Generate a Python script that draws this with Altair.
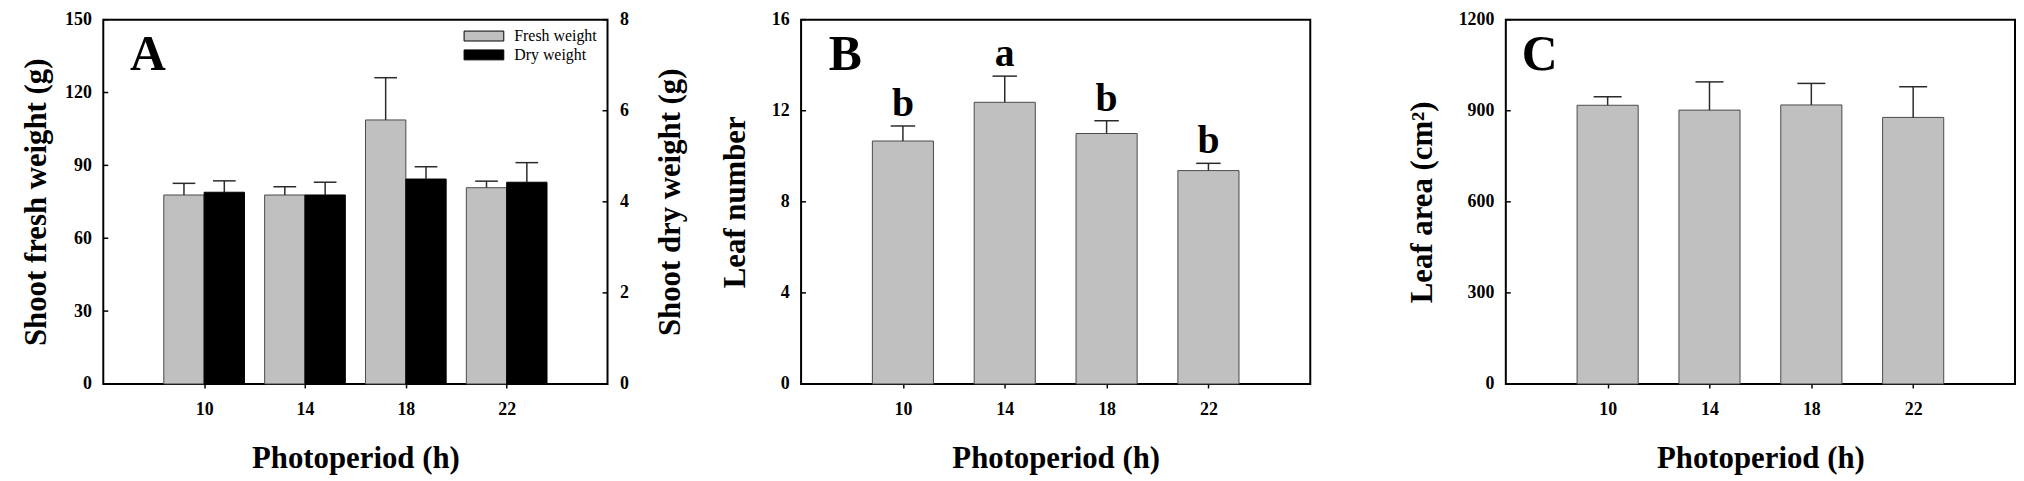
import altair as alt
import pandas as pd

# ---------------- data ----------------
photoperiod = [10, 14, 18, 22]
fresh_weight = [77.8, 77.8, 108.7, 80.8]
fresh_weight_se = [4.8, 3.4, 17.4, 2.7]
dry_weight = [4.21, 4.15, 4.50, 4.43]
dry_weight_se = [0.25, 0.28, 0.27, 0.43]
leaf_number = [10.67, 12.37, 11.0, 9.37]
leaf_number_se = [0.66, 1.15, 0.56, 0.32]
leaf_number_letters = ["b", "a", "b", "b"]
leaf_area = [918, 902, 919, 878]
leaf_area_se = [28, 93, 71, 101]
fresh_ticks = [0, 30, 60, 90, 120, 150]
dry_ticks = [0, 2, 4, 6, 8]
leaf_number_ticks = [0, 4, 8, 12, 16]
leaf_area_ticks = [0, 300, 600, 900, 1200]
series_names = ["Fresh weight", "Dry weight"]

FONT = "Liberation Serif"
BAR_GRAY = "#c0c0c0"
EDGE = "#4a4a4a"
ERR = "#2a2a2a"
X_TITLE = "Photoperiod (h)"
H = 367
WA = 508
WB = 513
TICK_LEN = 5

df_a = pd.DataFrame({"photoperiod": photoperiod, "fresh": fresh_weight,
                     "fresh_se": fresh_weight_se, "dry": dry_weight,
                     "dry_se": dry_weight_se})
df_b = pd.DataFrame({"photoperiod": photoperiod, "value": leaf_number,
                     "se": leaf_number_se, "letter": leaf_number_letters})
df_c = pd.DataFrame({"photoperiod": photoperiod, "value": leaf_area,
                     "se": leaf_area_se})


def xenc(field):
    return alt.X(f"{field}:Q", title=X_TITLE,
                 scale=alt.Scale(domain=[6, 26], nice=False, zero=False),
                 axis=alt.Axis(values=photoperiod, format="d", title=X_TITLE))


def panel_letter(letter, xpos):
    return alt.Chart(pd.DataFrame({"t": [letter]})).mark_text(
        font=FONT, fontSize=50, fontWeight="bold", color="black",
        align="left", baseline="alphabetic").encode(
        x=alt.value(xpos), y=alt.value(51), text="t:N")


def inward_ticks(values, title, x_from, x_to):
    # y-axis ticks drawn inside the frame, positioned by the y scale
    return alt.Chart(pd.DataFrame({"tick": values})).mark_rule(
        color="black", strokeWidth=1.5).encode(
        y=alt.Y("tick:Q", title=title), x=alt.value(x_from), x2=alt.value(x_to))


# ---------------- panel A ----------------
color = alt.Color("series:N", title=None,
                  scale=alt.Scale(domain=series_names, range=[BAR_GRAY, "black"]),
                  legend=alt.Legend(orient="none", legendX=373, legendY=6,
                                    direction="vertical"))

base_a = alt.Chart(df_a).transform_calculate(
    f_x0="datum.photoperiod - 1.6", f_x1="datum.photoperiod",
    f_xc="datum.photoperiod - 0.8",
    f_c0="datum.photoperiod - 1.25", f_c1="datum.photoperiod - 0.35",
    d_x0="datum.photoperiod", d_x1="datum.photoperiod + 1.6",
    d_xc="datum.photoperiod + 0.8",
    d_c0="datum.photoperiod + 0.35", d_c1="datum.photoperiod + 1.25",
    f_top="datum.fresh + datum.fresh_se", d_top="datum.dry + datum.dry_se",
)

FY_T = "Shoot fresh weight (g)"
DY_T = "Shoot dry weight (g)"
fy_scale = alt.Scale(domain=[0, 150], nice=False)
dy_scale = alt.Scale(domain=[0, 8], nice=False)
fy_axis = alt.Axis(values=fresh_ticks, title=FY_T, orient="left", format="d",
                   titlePadding=12)
dy_axis = alt.Axis(values=dry_ticks, title=DY_T, orient="right", format="d",
                   titleAngle=270, titleBaseline="top", titlePadding=28)

fresh_bars = base_a.transform_calculate(series="'Fresh weight'").mark_bar(
    stroke=EDGE, strokeWidth=1).encode(
    x=xenc("f_x0"), x2="f_x1:Q",
    y=alt.Y("fresh:Q", scale=fy_scale, axis=fy_axis, title=FY_T),
    y2=alt.datum(0),
    color=color)
fresh_err = base_a.mark_rule(color=ERR, strokeWidth=1.5).encode(
    x=xenc("f_xc"), y=alt.Y("fresh:Q", title=FY_T), y2="f_top:Q")
fresh_cap = base_a.mark_rule(color=ERR, strokeWidth=1.5).encode(
    x=xenc("f_c0"), x2="f_c1:Q", y=alt.Y("f_top:Q", title=FY_T))

dry_bars = base_a.transform_calculate(series="'Dry weight'").mark_bar(
    stroke="black", strokeWidth=1).encode(
    x=xenc("d_x0"), x2="d_x1:Q",
    y=alt.Y("dry:Q", scale=dy_scale, axis=dy_axis, title=DY_T),
    y2=alt.datum(0),
    color=color)
dry_err = base_a.mark_rule(color=ERR, strokeWidth=1.5).encode(
    x=xenc("d_xc"), y=alt.Y("dry:Q", title=DY_T), y2="d_top:Q")
dry_cap = base_a.mark_rule(color=ERR, strokeWidth=1.5).encode(
    x=xenc("d_c0"), x2="d_c1:Q", y=alt.Y("d_top:Q", title=DY_T))

fresh_layer = alt.layer(fresh_bars, fresh_err, fresh_cap,
                        inward_ticks(fresh_ticks, FY_T, 0, TICK_LEN),
                        panel_letter("A", 27))
dry_layer = alt.layer(dry_bars, dry_err, dry_cap,
                      inward_ticks(dry_ticks, DY_T, WA - TICK_LEN, WA))
panel_a = alt.layer(fresh_layer, dry_layer).resolve_scale(y="independent").properties(
    width=WA, height=H)


# ---------------- panels B and C ----------------
def single_panel(df, ticks, domain, ytitle, half_cap, letter, letter_x, letters=False):
    base = alt.Chart(df).transform_calculate(
        x0="datum.photoperiod - 1.2", x1="datum.photoperiod + 1.2",
        c0=f"datum.photoperiod - {half_cap}", c1=f"datum.photoperiod + {half_cap}",
        top="datum.value + datum.se")
    ysc = alt.Scale(domain=domain, nice=False)
    bars = base.mark_bar(color=BAR_GRAY, stroke=EDGE, strokeWidth=1).encode(
        x=xenc("x0"), x2="x1:Q",
        y=alt.Y("value:Q", scale=ysc, title=ytitle,
                axis=alt.Axis(values=ticks, title=ytitle, format="d", titlePadding=20)),
        y2=alt.datum(0))
    err = base.mark_rule(color=ERR, strokeWidth=1.5).encode(
        x=xenc("photoperiod"), y=alt.Y("value:Q", title=ytitle), y2="top:Q")
    cap = base.mark_rule(color=ERR, strokeWidth=1.5).encode(
        x=xenc("c0"), x2="c1:Q", y=alt.Y("top:Q", title=ytitle))
    layers = [bars, err, cap, inward_ticks(ticks, ytitle, 0, TICK_LEN),
              panel_letter(letter, letter_x)]
    if letters:
        layers.append(base.mark_text(font=FONT, fontSize=40, fontWeight="bold",
                                     color="black", dy=-10, baseline="alphabetic").encode(
            x=xenc("photoperiod"), y=alt.Y("top:Q", title=ytitle), text="letter:N"))
    return alt.layer(*layers).properties(width=WB, height=H)


panel_b = single_panel(df_b, leaf_number_ticks, [0, 16], "Leaf number", 0.48,
                       "B", 28, letters=True)
panel_c = single_panel(df_c, leaf_area_ticks, [0, 1200], "Leaf area (cm²)", 0.55,
                       "C", 16)

chart = alt.hconcat(alt.hconcat(panel_a, panel_b, spacing=32), panel_c, spacing=95).properties(
    padding={"left": 12, "top": 0, "right": 0, "bottom": 0}
).configure_view(
    stroke="black", strokeWidth=2
).configure_axis(
    labelFont=FONT, labelFontSize=18, labelFontWeight="bold", labelColor="black",
    titleFont=FONT, titleFontSize=31, titleFontWeight="bold", titleColor="black",
    domain=False, grid=False, tickColor="black", tickSize=4, tickWidth=1.5,
    labelPadding=8
).configure_axisX(
    labelPadding=13, titlePadding=25
).configure_axisY(
    ticks=False, labelPadding=12
).configure_legend(
    labelFont=FONT, labelFontSize=16, labelColor="black",
    symbolType="M-2,-0.5H2V0.5H-2Z", symbolSize=400,
    symbolStrokeColor="black", symbolStrokeWidth=1, symbolOpacity=1,
    labelOffset=20, rowPadding=0, padding=0
)

chart.save("out.html", embed_options={"renderer": "svg", "actions": False})
